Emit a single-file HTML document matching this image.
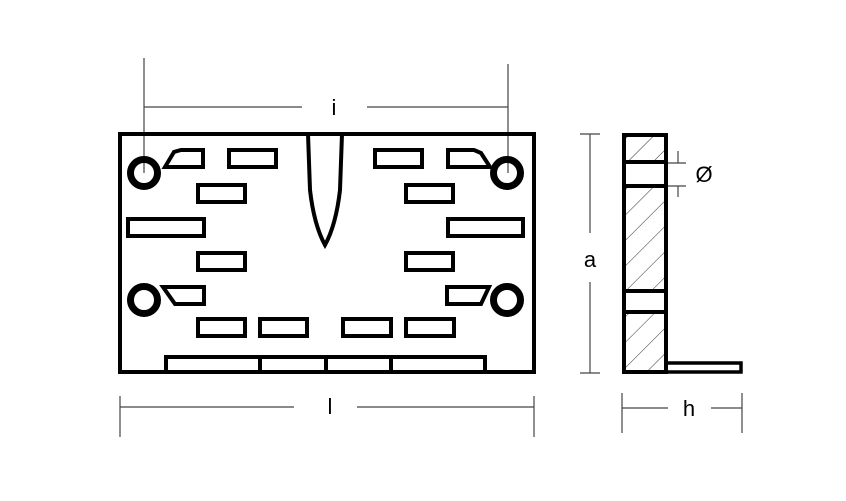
<!DOCTYPE html>
<html><head><style>html,body{margin:0;padding:0;background:#fff}svg{display:block}</style></head>
<body>
<svg width="846" height="501" viewBox="0 0 846 501" xmlns="http://www.w3.org/2000/svg">
<defs>
<pattern id="hatch" patternUnits="userSpaceOnUse" width="18" height="18" patternTransform="rotate(45)">
<line x1="0" y1="0" x2="0" y2="18" stroke="#333" stroke-width="1"/>
</pattern>
</defs>
<g stroke="#444" stroke-width="1.2" fill="none">
<!-- i -->
<line x1="144" y1="58" x2="144" y2="173"/>
<line x1="508" y1="64" x2="508" y2="173"/>
<line x1="144" y1="107" x2="302" y2="107"/>
<line x1="367" y1="107" x2="508" y2="107"/>
<!-- l -->
<line x1="120" y1="396" x2="120" y2="437"/>
<line x1="534" y1="396" x2="534" y2="437"/>
<line x1="120" y1="407" x2="294" y2="407"/>
<line x1="357" y1="407" x2="534" y2="407"/>
<!-- a -->
<line x1="580" y1="134" x2="600" y2="134"/>
<line x1="580" y1="373" x2="600" y2="373"/>
<line x1="590" y1="134" x2="590" y2="233"/>
<line x1="590" y1="282" x2="590" y2="373"/>
<!-- h -->
<line x1="622" y1="393" x2="622" y2="433"/>
<line x1="742" y1="393" x2="742" y2="433"/>
<line x1="622" y1="408" x2="668" y2="408"/>
<line x1="711" y1="408" x2="742" y2="408"/>
<!-- Ø -->
<line x1="668" y1="163" x2="686" y2="163"/>
<line x1="668" y1="186" x2="686" y2="186"/>
<line x1="678" y1="151" x2="678" y2="163"/>
<line x1="678" y1="186" x2="678" y2="197"/>
</g>
<g font-family="Liberation Sans, sans-serif" font-size="22" fill="#000" text-anchor="middle">
<text x="334" y="115">i</text>
<text x="330" y="414">l</text>
<text x="590" y="267">a</text>
<text x="689" y="416">h</text>
<text x="704" y="182">Ø</text>
</g>
<!-- main plate -->
<g stroke="#000" stroke-width="4" fill="none" stroke-linejoin="miter">
<rect x="120" y="134" width="414" height="238"/>
<path d="M308 134 L310 190 Q314 225 325 245 Q336 225 340 190 L342 134"/>
<!-- top row -->
<path d="M165 167 L174 152 L181 150 L203 150 L203 167 Z"/>
<rect x="229" y="150" width="47" height="17"/>
<rect x="375" y="150" width="47" height="17"/>
<path d="M448 150 L474 150 L481 153 L490 167 L448 167 Z"/>
<rect x="198" y="185" width="47" height="17"/>
<rect x="406" y="185" width="47" height="17"/>
<rect x="128" y="219" width="76" height="17"/>
<rect x="448" y="219" width="75" height="17"/>
<rect x="198" y="253" width="47" height="17"/>
<rect x="406" y="253" width="47" height="17"/>
<path d="M163 287 L204 287 L204 304 L175 304 Z"/>
<path d="M447 287 L489 287 L481 304 L447 304 Z"/>
<rect x="198" y="319" width="47" height="17"/>
<rect x="260" y="319" width="47" height="17"/>
<rect x="343" y="319" width="48" height="17"/>
<rect x="406" y="319" width="48" height="17"/>
<path d="M166 372 L166 357 L485 357 L485 372"/>
<line x1="260" y1="357" x2="260" y2="372"/>
<line x1="326" y1="357" x2="326" y2="372"/>
<line x1="391" y1="357" x2="391" y2="372"/>
</g>
<g stroke="#000" fill="none">
<circle cx="144" cy="173" r="13.5" stroke-width="7"/>
<circle cx="507" cy="173" r="13.5" stroke-width="7"/>
<circle cx="144" cy="300" r="13.5" stroke-width="7"/>
<circle cx="507" cy="300" r="13.5" stroke-width="7"/>
</g>
<!-- side view -->
<rect x="624" y="135" width="41" height="27" fill="url(#hatch)"/>
<rect x="624" y="186" width="41" height="105" fill="url(#hatch)"/>
<rect x="624" y="312" width="41" height="60" fill="url(#hatch)"/>
<g stroke="#000" stroke-width="4" fill="none">
<rect x="624" y="135" width="42" height="237"/>
<line x1="624" y1="162" x2="666" y2="162"/>
<line x1="624" y1="186" x2="666" y2="186"/>
<line x1="624" y1="291" x2="666" y2="291"/>
<line x1="624" y1="312" x2="666" y2="312"/>
<rect x="666" y="363" width="75" height="9" stroke-width="3.5"/>
</g>
</svg>
</body></html>
